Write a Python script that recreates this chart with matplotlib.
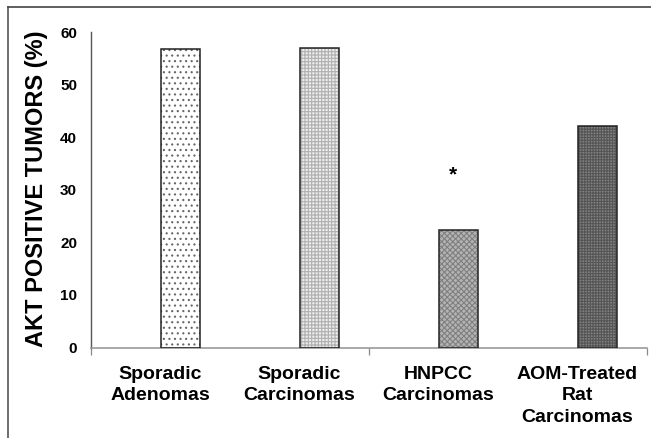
import matplotlib
matplotlib.use("Agg")
import matplotlib.pyplot as plt
from matplotlib.lines import Line2D

plt.rcParams['font.family'] = ['Liberation Sans', 'DejaVu Sans']
plt.rcParams['font.weight'] = 'bold'
plt.rcParams['hatch.linewidth'] = 0.8

categories = ['Sporadic\nAdenomas', 'Sporadic\nCarcinomas', 'HNPCC\nCarcinomas',
              'AOM-Treated\nRat\nCarcinomas']
values = [56.8, 57.0, 22.4, 42.2]
yticks = [0, 10, 20, 30, 40, 50, 60]
ylabel = 'AKT POSITIVE TUMORS (%)'

faces = ['white', '#ececec', '#b4b4b4', '#828282']
hatch_cols = ['#666666', '#b0b0b0', '#808080', '#555555']
hatches = ['...', '+++++', 'xxxxxx', '++++++']

W, H = 651, 438
fig = plt.figure(figsize=(W / 100, H / 100), dpi=100)
ax = fig.add_axes([91 / W, 1 - 347.5 / H, 556 / W, 315.2 / H])

xs = list(range(len(values)))
bw = 0.285
# fill, hatch, outline as separate layers so hatch colour can differ from edge
ax.bar(xs, values, width=bw, align='edge', color=faces, linewidth=0, zorder=2)
for x, v, hc, h in zip(xs, values, hatch_cols, hatches):
    ax.bar(x, v, width=bw, align='edge', color='none', edgecolor=hc,
           hatch=h, linewidth=0, zorder=3)
ax.bar(xs, values, width=bw, align='edge', color='none', edgecolor='#222222',
       linewidth=1.1, zorder=4)

ax.text(2.104, 32.8, '*', ha='center', va='center', fontsize=15,
        fontweight='bold')

ax.set_xlim(-0.5, 3.5)
ax.set_ylim(0, 60)
ax.set_yticks(yticks)
ax.tick_params(axis='y', length=0, pad=10, labelsize=11)

ax.set_xticks([-0.5, 1.5, 3.5])
ax.set_xticklabels([])
ax.tick_params(axis='x', direction='out', length=5, width=0.9,
               color='#888888')
for i, lab in enumerate(categories):
    ax.annotate(lab, xy=(i + 0.0, 0), xycoords='data', xytext=(0, -13),
                textcoords='offset points', ha='center', va='top',
                fontsize=14, fontweight='bold', linespacing=1.38)

for s in ['top', 'right']:
    ax.spines[s].set_visible(False)
ax.spines['left'].set_color('#555555')
ax.spines['left'].set_linewidth(1.0)
ax.spines['bottom'].set_color('#999999')
ax.spines['bottom'].set_linewidth(1.2)

fig.text(36.5 / W, 1 - 189 / H, ylabel, rotation=90, ha='center', va='center',
         fontsize=17, fontweight='bold')

# outer frame (top and left only, image is cropped on the other sides)
fig.add_artist(Line2D([8 / W, 8 / W], [0, 1 - 7 / H], transform=fig.transFigure,
                      color='#555555', linewidth=1.2))
fig.add_artist(Line2D([8 / W, 1], [1 - 7 / H, 1 - 7 / H], transform=fig.transFigure,
                      color='#444444', linewidth=1.2))

fig.savefig('out.png', dpi=100)
